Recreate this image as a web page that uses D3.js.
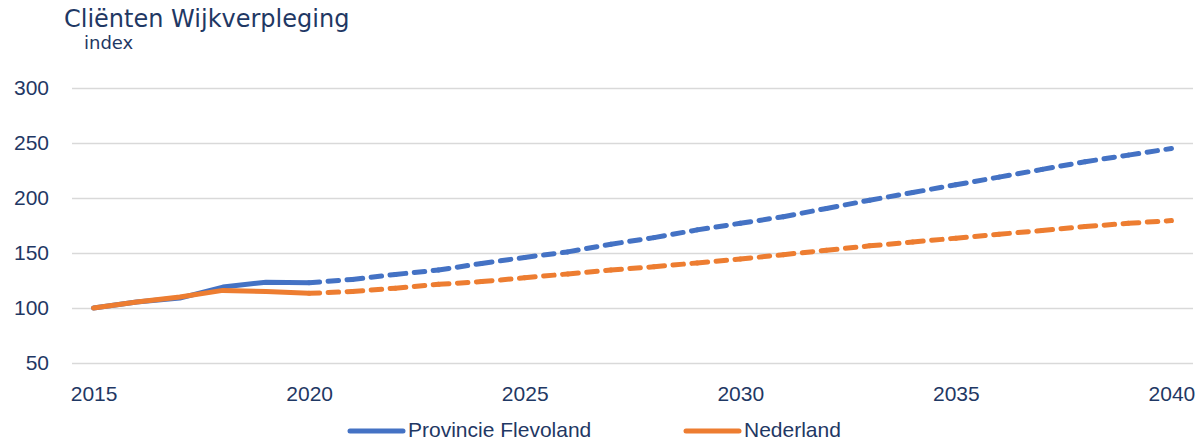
<!DOCTYPE html>
<html lang="nl">
<head>
<meta charset="UTF-8">
<title>Cliënten Wijkverpleging</title>
<script src="https://cdn.jsdelivr.net/npm/d3@7"></script>
<style>
    body { margin: 0; background: #fff; }
    svg { display: block; }
</style>
</head>
<body>
<script>
'use strict';

// jaren en index-waarden (2015 = 100)
var years = [2015, 2016, 2017, 2018, 2019, 2020, 2021, 2022, 2023, 2024, 2025, 2026, 2027,
             2028, 2029, 2030, 2031, 2032, 2033, 2034, 2035, 2036, 2037, 2038, 2039, 2040];
var flevoland = [100, 105.5, 109, 119, 123.5, 123, 126, 130.5, 134.5, 140.5, 146, 151, 158,
                 164, 171, 177, 183, 190.5, 198, 205, 212, 219, 226, 233, 239, 245];
var nederland = [100, 105.5, 110, 116, 115, 113.3, 115, 118, 121.5, 124, 127.5, 131, 134.5,
                 137.5, 141, 144.5, 148.5, 152.5, 156.5, 160, 163.5, 167, 170.5, 174, 177, 179.5];
var lastActual = 2020;            // daarna prognose (gestippeld)
var yTicks = [50, 100, 150, 200, 250, 300];
var xTicks = [2015, 2020, 2025, 2030, 2035, 2040];
var seriesNames = ['Provincie Flevoland', 'Nederland'];
var colors = ['#4472C4', '#ED7D31'];

var w = 1201, h = 442;
var textColor = '#1F3864';

var svg = d3.select('body').append('svg')
    .attr('width', w)
    .attr('height', h);

var x = d3.scalePoint()
    .domain(years)
    .range([72, 1193])
    .padding(0.5);

var y = d3.scaleLinear()
    .domain([50, 300])
    .range([363, 88]);

// titel
svg.append('text')
    .attr('x', 64).attr('y', 27)
    .style('font-family', 'DejaVu Sans')
    .style('font-size', '24px')
    .style('fill', textColor)
    .text('Cliënten Wijkverpleging');

svg.append('text')
    .attr('x', 84).attr('y', 49)
    .style('font-family', 'DejaVu Sans')
    .style('font-size', '18px')
    .style('fill', textColor)
    .text('index');

// rasterlijnen + y labels
var yAxis = d3.axisLeft(y)
    .tickValues(yTicks)
    .tickSize(-(1193 - 72))
    .tickPadding(24);

var gy = svg.append('g')
    .attr('transform', 'translate(72,0)')
    .call(yAxis);
gy.select('.domain').remove();
gy.selectAll('.tick line')
    .attr('stroke', '#D9D9D9')
    .attr('stroke-width', 1.5);
gy.selectAll('.tick text')
    .attr('x', 49 - 72)
    .style('font-family', 'Liberation Sans')
    .style('font-size', '21px')
    .style('fill', textColor);

// x labels
var xAxis = d3.axisBottom(x)
    .tickValues(xTicks)
    .tickSize(0)
    .tickPadding(0);

var gx = svg.append('g')
    .attr('transform', 'translate(0,386)')
    .call(xAxis);
gx.select('.domain').remove();
gx.selectAll('.tick text')
    .style('font-family', 'Liberation Sans')
    .style('font-size', '21px')
    .style('fill', textColor);

var line = d3.line()
    .x(function(d) { return x(d.year); })
    .y(function(d) { return y(d.value); });

[flevoland, nederland].forEach(function(vals, i) {
    var pts = years.map(function(yr, j) { return { year: yr, value: vals[j] }; });
    var actual = pts.filter(function(d) { return d.year <= lastActual; });
    var forecast = pts.filter(function(d) { return d.year >= lastActual; });

    svg.append('path')
        .datum(actual)
        .attr('d', line)
        .attr('fill', 'none')
        .attr('stroke', colors[i])
        .attr('stroke-width', 5)
        .attr('stroke-linejoin', 'round')
        .attr('stroke-linecap', 'round');

    // streepjespatroon begint per jaar-segment opnieuw (zoals Excel)
    svg.append('g').selectAll('path')
        .data(d3.pairs(forecast))
        .enter()
        .append('path')
        .attr('d', function(p) { return line(p); })
        .attr('fill', 'none')
        .attr('stroke', colors[i])
        .attr('stroke-width', 5)
        .attr('stroke-linecap', 'round')
        .attr('stroke-dasharray', '10.5,8.5');
});

// legenda
var legend = svg.append('g')
    .selectAll('g')
    .data(seriesNames)
    .enter()
    .append('g')
    .attr('transform', function(d, i) { return 'translate(' + [350, 686][i] + ',431)'; });

legend.append('line')
    .attr('x1', 0).attr('x2', 53)
    .attr('stroke', function(d, i) { return colors[i]; })
    .attr('stroke-width', 5)
    .attr('stroke-linecap', 'round');

legend.append('text')
    .attr('x', 58).attr('y', 6)
    .style('font-family', 'Liberation Sans')
    .style('font-size', '21px')
    .style('fill', textColor)
    .text(function(d) { return d; });
</script>
</body>
</html>
